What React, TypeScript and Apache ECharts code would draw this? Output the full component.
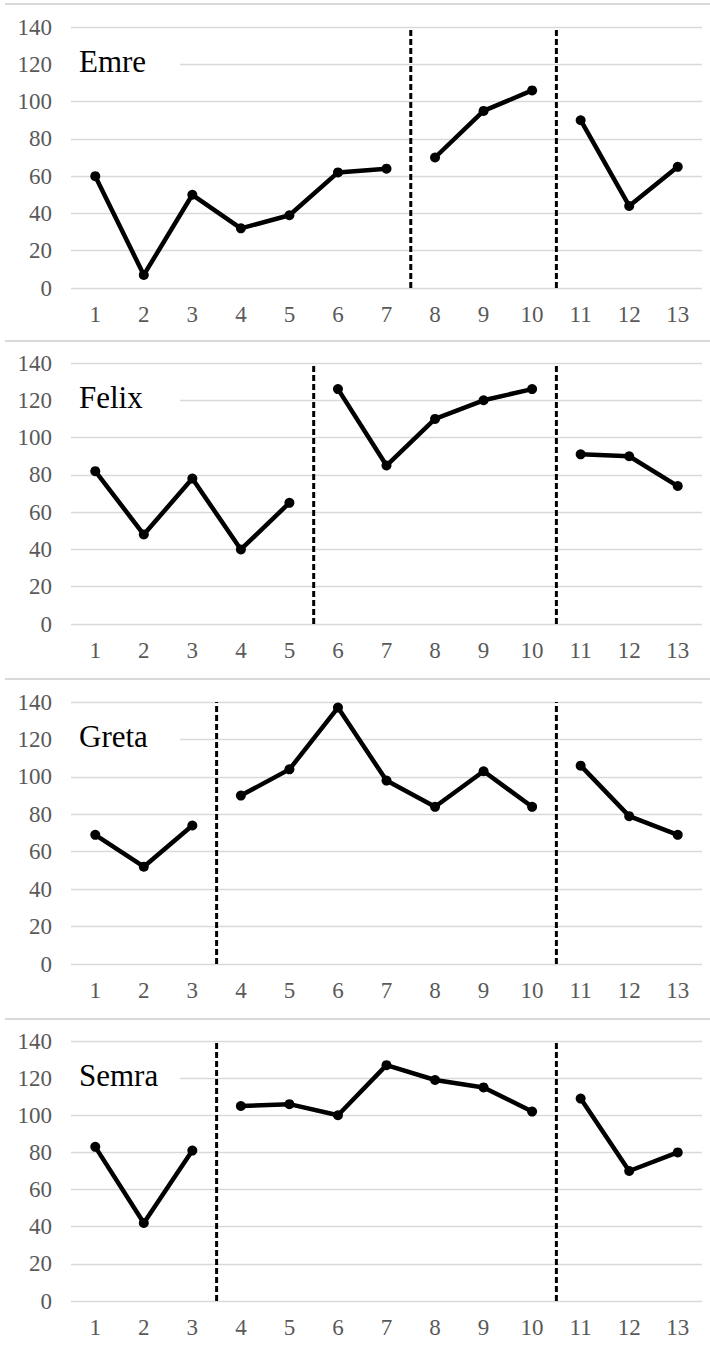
import React, { useEffect, useRef } from "react";
import * as echarts from "echarts";

const categories = ["1", "2", "3", "4", "5", "6", "7", "8", "9", "10", "11", "12", "13"];
const yTicks = [0, 20, 40, 60, 80, 100, 120, 140];

const names = ["Emre", "Felix", "Greta", "Semra"];
const emre = [60, 7, 50, 32, 39, 62, 64, 70, 95, 106, 90, 44, 65];
const felix = [82, 48, 78, 40, 65, 126, 85, 110, 120, 126, 91, 90, 74];
const greta = [69, 52, 74, 90, 104, 137, 98, 84, 103, 84, 106, 79, 69];
const semra = [83, 42, 81, 105, 106, 100, 127, 119, 115, 102, 109, 70, 80];
const valuesList = [emre, felix, greta, semra];

// last category of each phase (phase boundaries)
const emreBreaks = [7, 10];
const felixBreaks = [5, 10];
const gretaBreaks = [3, 10];
const semraBreaks = [3, 10];
const breaksList = [emreBreaks, felixBreaks, gretaBreaks, semraBreaks];

const gridTops = [27, 363, 702, 1041];
const gridHeights = [261, 261, 262, 260];
const separatorYs = [4, 341, 679, 1019];

export default function App() {
  const ref = useRef<HTMLDivElement>(null);

  useEffect(() => {
    document.body.style.margin = "0";
    if (!ref.current) return;
    const chart = echarts.init(ref.current, null, { renderer: "svg" });

    const font = "'Liberation Serif', serif";
    const grids: any[] = [];
    const xAxes: any[] = [];
    const yAxes: any[] = [];
    const series: any[] = [];
    const graphics: any[] = [];

    names.forEach((name, i) => {
      grids.push({ left: 71, width: 631, top: gridTops[i], height: gridHeights[i] });
      xAxes.push({
        type: "category",
        gridIndex: i,
        data: categories,
        boundaryGap: true,
        axisLine: { show: false },
        axisTick: { show: false },
        axisLabel: { color: "#595959", fontFamily: font, fontSize: 23, margin: 15 },
        splitLine: { show: false },
      });
      xAxes.push({
        type: "value",
        gridIndex: i,
        min: 0.5,
        max: 13.5,
        show: false,
        splitLine: { show: false },
      });
      yAxes.push({
        type: "value",
        gridIndex: i,
        min: 0,
        max: 140,
        interval: 20,
        axisLine: { show: false },
        axisTick: { show: false },
        axisLabel: { color: "#595959", fontFamily: font, fontSize: 23, margin: 19 },
        splitLine: { lineStyle: { color: "#d9d9d9", width: 1.3 } },
      });

      const vals = valuesList[i];
      const br = breaksList[i];
      const bounds = [0, br[0], br[1], 13];
      for (let s = 0; s < 3; s++) {
        const lo = bounds[s];
        const hi = bounds[s + 1];
        series.push({
          type: "line",
          xAxisIndex: 2 * i,
          yAxisIndex: i,
          data: vals.map((v, k) => (k + 1 > lo && k + 1 <= hi ? v : "-")),
          symbol: "circle",
          symbolSize: 10,
          itemStyle: { color: "#000" },
          lineStyle: { color: "#000", width: 4.5 },
          connectNulls: false,
          z: 5,
        });
      }
      br.forEach((b) => {
        series.push({
          type: "line",
          xAxisIndex: 2 * i + 1,
          yAxisIndex: i,
          data: [
            [b + 0.5, 0],
            [b + 0.5, 140],
          ],
          symbol: "none",
          lineStyle: { color: "#000", width: 3, type: [6, 3] },
          z: 4,
        });
      });

      const line120 = gridTops[i] + gridHeights[i] * (20 / 140);
      graphics.push({
        type: "rect",
        shape: { x: 71, y: line120 - 3, width: 109, height: 6 },
        style: { fill: "#fff" },
        z: 10,
      });
      graphics.push({
        type: "text",
        x: 79,
        y: gridTops[i] + 34,
        style: {
          text: name,
          fontFamily: font,
          fontSize: 31,
          fill: "#000",
          textVerticalAlign: "middle",
          textAlign: "left",
        },
        z: 11,
      });
    });

    separatorYs.forEach((y) => {
      graphics.push({
        type: "line",
        shape: { x1: 5, y1: y, x2: 710, y2: y },
        style: { stroke: "#d9d9d9", lineWidth: 2 },
        z: 1,
      });
    });

    chart.setOption({
      animation: false,
      backgroundColor: "#fff",
      grid: grids,
      xAxis: xAxes,
      yAxis: yAxes,
      series,
      graphic: graphics,
    });

    return () => chart.dispose();
  }, []);

  return <div ref={ref} style={{ width: 710, height: 1351 }} />;
}
